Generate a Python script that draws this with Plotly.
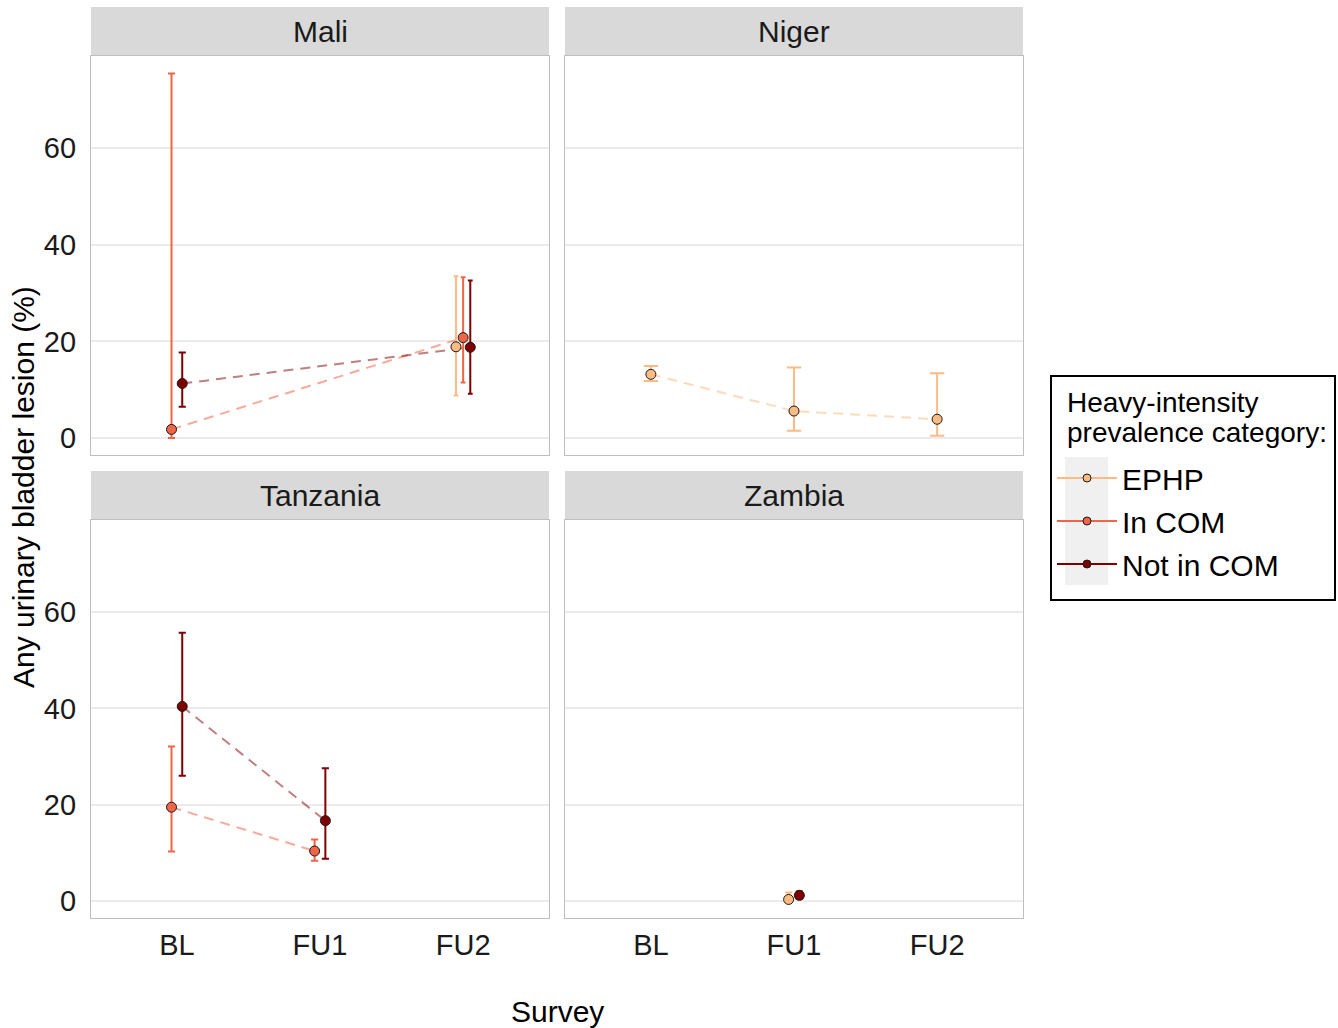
import plotly.graph_objects as go

# ---------------- data ----------------
countries = ["Mali", "Niger", "Tanzania", "Zambia"]
surveys = ["BL", "FU1", "FU2"]
categories = ["EPHP", "In COM", "Not in COM"]
cat_colors = ["#FDBB84", "#EF6548", "#7F0000"]
line_colors = ["rgba(253,187,132,0.55)", "rgba(239,101,72,0.55)", "rgba(127,0,0,0.5)"]
legend_title_lines = ["Heavy-intensity", "prevalence category:"]

rec_country = ["Mali", "Mali", "Mali", "Mali", "Mali",
               "Niger", "Niger", "Niger",
               "Tanzania", "Tanzania", "Tanzania", "Tanzania",
               "Zambia", "Zambia"]
rec_survey = ["BL", "BL", "FU2", "FU2", "FU2",
              "BL", "FU1", "FU2",
              "BL", "BL", "FU1", "FU1",
              "FU1", "FU1"]
rec_category = ["In COM", "Not in COM", "EPHP", "In COM", "Not in COM",
                "EPHP", "EPHP", "EPHP",
                "In COM", "Not in COM", "In COM", "Not in COM",
                "EPHP", "Not in COM"]
rec_est = [1.8, 11.3, 18.9, 20.8, 18.8,
           13.2, 5.6, 3.9,
           19.5, 40.4, 10.4, 16.7,
           0.35, 1.2]
rec_lo = [0.0, 6.5, 8.8, 11.5, 9.2,
          11.8, 1.5, 0.5,
          10.3, 26.0, 8.4, 8.8,
          0.0, 0.5]
rec_hi = [75.5, 17.7, 33.5, 33.3, 32.6,
          14.9, 14.6, 13.4,
          32.1, 55.7, 12.8, 27.6,
          1.8, 2.0]

y_ticks = [0, 20, 40, 60]

# ---------------- geometry ----------------
W, H = 1338, 1028
ML, MR, MT, MB = 91, 315, 7, 110
PW, PH = W - ML - MR, H - MT - MB
col_px = [(91, 549), (565, 1023)]
row_px = [(56, 455), (520, 918)]
strip_px = [(7, 56), (471, 520)]


def px_x(px):
    return (px - ML) / PW


def px_y(py):
    return (H - MB - py) / PH


FONT = "Liberation Sans, Arial, sans-serif"
DODGE = 0.15
ERR_W = 0.1
X_RANGE = [0.4, 3.6]
Y_RANGE = [-3.5, 79.1]

fig = go.Figure()

layout_axes = {}
annotations = []
shapes = []

for k, country in enumerate(countries):
    r, c = divmod(k, 2)
    suffix = "" if k == 0 else str(k + 1)
    xa, ya = "x" + suffix, "y" + suffix
    x0, x1 = col_px[c]
    y0, y1 = row_px[r]
    px_per_unit = (x1 - x0) / (X_RANGE[1] - X_RANGE[0])

    layout_axes["xaxis" + suffix] = dict(
        domain=[px_x(x0), px_x(x1)], range=X_RANGE, anchor=ya,
        tickmode="array", tickvals=[1, 2, 3], ticktext=surveys,
        showticklabels=(r == 1), ticks="", showgrid=False, zeroline=False,
        showline=True, mirror=True, linecolor="#BFBFBF", linewidth=1.3,
        tickfont=dict(size=29, color="#1a1a1a", family=FONT),
        ticklabelstandoff=1,
    )
    layout_axes["yaxis" + suffix] = dict(
        domain=[px_y(y1), px_y(y0)], range=Y_RANGE, anchor=xa,
        tickmode="array", tickvals=y_ticks,
        showticklabels=(c == 0), ticks="", showgrid=True,
        gridcolor="#EBEBEB", gridwidth=2, zeroline=False,
        showline=True, mirror=True, linecolor="#BFBFBF", linewidth=1.3,
        tickfont=dict(size=29, color="#1a1a1a", family=FONT),
        ticklabelstandoff=8,
    )

    # strip
    sy0, sy1 = strip_px[r]
    shapes.append(dict(type="rect", xref="paper", yref="paper",
                       x0=px_x(x0), x1=px_x(x1), y0=px_y(sy1), y1=px_y(sy0),
                       fillcolor="#D9D9D9", line=dict(width=0), layer="below"))
    annotations.append(dict(text=country, xref="paper", yref="paper",
                            x=px_x((x0 + x1) / 2), y=px_y((sy0 + sy1) / 2),
                            xanchor="center", yanchor="middle", showarrow=False,
                            font=dict(size=30, color="#1a1a1a", family=FONT)))

    # dodged positions
    idx = [i for i in range(len(rec_country)) if rec_country[i] == country]
    pos = {}
    caps = {}
    for s_i, s in enumerate(surveys):
        here = [i for i in idx if rec_survey[i] == s]
        here.sort(key=lambda i: categories.index(rec_category[i]))
        n = len(here)
        for j, i in enumerate(here):
            pos[i] = s_i + 1 + (j - (n - 1) / 2) * DODGE / n
            caps[i] = ERR_W / n / 2 * px_per_unit

    # lines
    for g, cat in enumerate(categories):
        gi = [i for i in idx if rec_category[i] == cat]
        gi.sort(key=lambda i: surveys.index(rec_survey[i]))
        if len(gi) > 1:
            fig.add_trace(go.Scatter(
                x=[pos[i] for i in gi], y=[rec_est[i] for i in gi],
                mode="lines", line=dict(color=line_colors[g], width=2, dash="10px,7px"),
                xaxis=xa, yaxis=ya, showlegend=False, hoverinfo="skip"))
    # error bars
    for g, cat in enumerate(categories):
        for i in idx:
            if rec_category[i] != cat:
                continue
            fig.add_trace(go.Scatter(
                x=[pos[i]], y=[rec_est[i]], mode="markers",
                marker=dict(size=1, color="rgba(0,0,0,0)"),
                error_y=dict(type="data", symmetric=False,
                             array=[rec_hi[i] - rec_est[i]],
                             arrayminus=[rec_est[i] - rec_lo[i]],
                             color=cat_colors[g], thickness=2, width=caps[i]),
                xaxis=xa, yaxis=ya, showlegend=False, hoverinfo="skip"))
    # points
    for g, cat in enumerate(categories):
        gi = [i for i in idx if rec_category[i] == cat]
        if gi:
            fig.add_trace(go.Scatter(
                x=[pos[i] for i in gi], y=[rec_est[i] for i in gi], mode="markers",
                marker=dict(size=10, color=cat_colors[g], line=dict(color="#1a1a1a", width=1)),
                xaxis=xa, yaxis=ya, showlegend=False, name=cat))

# legend entries
for g, cat in enumerate(categories):
    fig.add_trace(go.Scatter(
        x=[None], y=[None], mode="lines+markers", name=cat, legendgroup=cat,
        line=dict(color=cat_colors[g], width=2),
        marker=dict(size=8, color=cat_colors[g], line=dict(color="#1a1a1a", width=1)),
        xaxis="x", yaxis="y", showlegend=True))

# legend box and key background
shapes.append(dict(type="rect", xref="paper", yref="paper",
                   x0=px_x(1051), x1=px_x(1335), y0=px_y(600), y1=px_y(376),
                   fillcolor="rgba(0,0,0,0)", line=dict(width=2, color="black"),
                   layer="above"))
shapes.append(dict(type="rect", xref="paper", yref="paper",
                   x0=px_x(1065), x1=px_x(1108), y0=px_y(585), y1=px_y(457),
                   fillcolor="#F0F0F0", line=dict(width=0), layer="below"))
# legend title
for li, (line_txt, ly) in enumerate(zip(legend_title_lines, [403, 432])):
    annotations.append(dict(text=line_txt, xref="paper", yref="paper",
                            x=px_x(1065), y=px_y(ly), showarrow=False,
                            xanchor="left", yanchor="middle",
                            font=dict(size=28, color="black", family=FONT)))

# axis titles
annotations.append(dict(text="Any urinary bladder lesion (%)", xref="paper", yref="paper",
                        x=px_x(23), y=px_y(487), textangle=-90, showarrow=False,
                        xanchor="center", yanchor="middle",
                        font=dict(size=30, color="black", family=FONT)))
annotations.append(dict(text="Survey", xref="paper", yref="paper",
                        x=px_x(557), y=px_y(1011), showarrow=False,
                        xanchor="center", yanchor="middle",
                        font=dict(size=30, color="black", family=FONT)))

fig.update_layout(
    width=W, height=H,
    margin=dict(l=ML, r=MR, t=MT, b=MB),
    paper_bgcolor="white", plot_bgcolor="white",
    font=dict(family=FONT, color="black"),
    shapes=shapes, annotations=annotations,
    showlegend=True,
    legend=dict(x=px_x(1052), y=px_y(452), xanchor="left", yanchor="top",
                bgcolor="rgba(0,0,0,0)", borderwidth=0,
                font=dict(size=30, family=FONT, color="black"),
                tracegroupgap=1, traceorder="grouped", itemwidth=60),
    **layout_axes,
)

fig.write_html("out.html")
